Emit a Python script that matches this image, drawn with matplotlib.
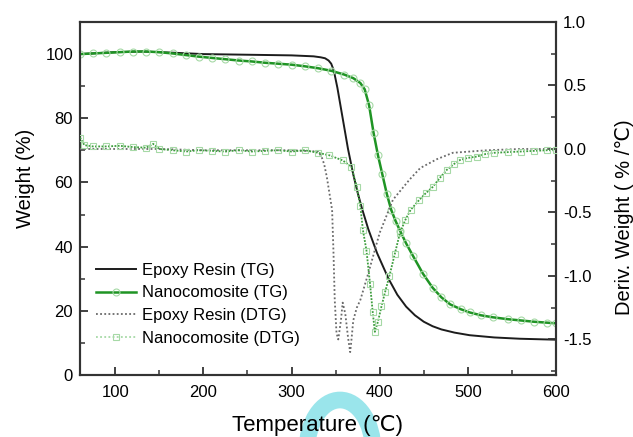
import matplotlib
matplotlib.use("Agg")
import matplotlib.pyplot as plt
from matplotlib.ticker import MultipleLocator
from matplotlib.lines import Line2D
from matplotlib.patches import Arc

plt.rcParams['font.family'] = ['Liberation Sans', 'DejaVu Sans']

# ---------------- data ----------------
# Epoxy resin TG (weight %)
ep_tg_T = [60, 80, 100, 130, 160, 200, 250, 300, 325, 333, 338, 342, 345, 348,
           352, 358, 364, 370, 375, 380, 387, 397, 410, 420, 430, 440, 450, 460,
           470, 485, 502, 530, 559, 600]
ep_tg_W = [100.0, 100.3, 100.6, 100.8, 100.5, 100.0, 99.8, 99.6, 99.3, 99.0, 98.7,
           98.0, 97.0, 94.8, 89.5, 80.0, 70.5, 62.5, 56.8, 51.8, 45.5, 38.0, 30.0,
           25.0, 21.3, 18.6, 16.6, 15.2, 14.2, 13.2, 12.4, 11.7, 11.3, 11.0]

# Nanocomposite TG (weight %)
nc_tg_T = [60, 75, 90, 105, 120, 135, 150, 165, 180, 195, 210, 225, 240, 255, 270,
           285, 300, 315, 330, 345, 360, 370, 378, 383, 388, 393, 398, 403, 408, 413,
           418, 423, 430, 438, 449, 460, 470, 480, 492, 502, 515, 528, 545, 560, 575,
           590, 600]
nc_tg_W = [100.0, 100.2, 100.4, 100.6, 100.8, 100.8, 100.6, 100.2, 99.7, 99.2, 98.8,
           98.4, 98.0, 97.7, 97.3, 97.0, 96.7, 96.2, 95.6, 94.8, 93.6, 92.5, 91.0,
           89.0, 84.0, 75.5, 68.5, 62.5, 56.5, 51.5, 48.0, 45.0, 41.0, 37.0, 31.6,
           27.2, 24.2, 22.0, 20.5, 19.5, 18.6, 18.0, 17.4, 17.0, 16.6, 16.3, 16.1]

# Epoxy resin DTG (%/°C)
ep_dtg_T = [60, 100, 150, 200, 250, 300, 330, 334, 337, 340, 343, 346, 347.5, 349,
            351, 353, 356, 358, 361, 364, 366.5, 368, 370, 374, 378, 387, 400, 415,
            434, 446, 465, 483, 522, 560, 600]
ep_dtg_D = [0.0, 0.0, 0.0, -0.01, -0.01, -0.01, -0.02, -0.06, -0.12, -0.22, -0.35,
            -0.48, -0.80, -1.19, -1.45, -1.50, -1.35, -1.21, -1.30, -1.48, -1.60,
            -1.50, -1.35, -1.25, -1.19, -0.98, -0.66, -0.40, -0.24, -0.15, -0.08,
            -0.03, -0.01, 0.0, 0.0]

# Nanocomposite DTG (%/°C)
nc_dtg_T = [60, 65, 75, 90, 105, 120, 135, 143, 150, 165, 180, 195, 210, 225, 240,
            255, 270, 285, 300, 315, 330, 343, 358, 368, 374, 378, 381, 385, 389, 392,
            394.5, 398, 402, 406, 411, 417, 423, 429, 435, 445, 452, 460, 468, 476,
            484, 491, 500, 510, 520, 530, 545, 560, 575, 590, 600]
nc_dtg_D = [0.09, 0.03, 0.02, 0.02, 0.025, 0.015, 0.01, 0.04, 0.0, -0.01, -0.02,
            -0.01, -0.015, -0.02, -0.01, -0.02, -0.015, -0.01, -0.02, -0.01, -0.03,
            -0.05, -0.09, -0.14, -0.30, -0.45, -0.64, -0.80, -1.06, -1.28, -1.44,
            -1.36, -1.24, -1.13, -1.00, -0.83, -0.66, -0.56, -0.48, -0.40, -0.35,
            -0.30, -0.23, -0.165, -0.12, -0.087, -0.07, -0.06, -0.04, -0.03, -0.025,
            -0.02, -0.015, -0.01, -0.01]

labels = ['Epoxy Resin (TG)', 'Nanocomosite (TG)',
          'Epoxy Resin (DTG)', 'Nanocomosite (DTG)']

x_ticks = [100, 200, 300, 400, 500, 600]
y_ticks = [0, 20, 40, 60, 80, 100]
y2_ticks = [-1.5, -1.0, -0.5, 0.0, 0.5, 1.0]

# ---------------- figure ----------------
W, H = 633, 437
fig = plt.figure(figsize=(W / 100, H / 100), dpi=100)
L, R, B, T = 80, 556, 375, 22
ax = fig.add_axes([L / W, 1 - B / H, (R - L) / W, (B - T) / H])
ax2 = ax.twinx()

black = '#1c1c1c'
green = '#1f9424'
green2 = '#3d9d3d'
lightg = '#a6d9a6'
grey = '#6a6a6a'

ax.plot(ep_tg_T, ep_tg_W, color=black, lw=1.4, zorder=3)
ax.plot(nc_tg_T, nc_tg_W, color=green, lw=1.8, marker='o', ms=5, mfc='none',
        mec=lightg, mew=0.8, zorder=4)

ax2.plot(ep_dtg_T, ep_dtg_D, color=grey, lw=1.3, ls=(0, (1, 1.3)), zorder=3)
ax2.plot(nc_dtg_T, nc_dtg_D, color=green2, lw=1.3, ls=(0, (1, 0.8)), marker='s',
         ms=5, mfc='none', mec=lightg, mew=0.8, zorder=4)

ax.set_xlim(60, 600)
ax.set_ylim(0, 110)
ax2.set_ylim(-1.78, 1.0)

ax.set_xticks(x_ticks)
ax.set_yticks(y_ticks)
ax2.set_yticks(y2_ticks)
ax2.set_yticklabels(['%.1f' % v for v in y2_ticks])
ax.xaxis.set_minor_locator(MultipleLocator(50))
ax.yaxis.set_minor_locator(MultipleLocator(10))
ax2.yaxis.set_minor_locator(MultipleLocator(0.25))

spine_c = '#333333'
for a in (ax, ax2):
    for s in a.spines.values():
        s.set_linewidth(1.5)
        s.set_color(spine_c)
ax.tick_params(axis='both', which='major', direction='in', length=6, width=1.3,
               labelsize=12, color=spine_c, top=False, right=False)
ax.tick_params(axis='both', which='minor', direction='in', length=3.5, width=1.1,
               color=spine_c, top=False, right=False)
ax.tick_params(axis='x', which='major', pad=7)
ax.tick_params(axis='y', which='major', pad=5)
ax2.tick_params(axis='y', which='major', direction='in', length=6, width=1.3,
                labelsize=12, color=spine_c, pad=5)
ax2.tick_params(axis='y', which='minor', direction='in', length=3.5, width=1.1,
                color=spine_c)

ax.set_xlabel('Temperature (℃)', fontsize=16)
ax.xaxis.set_label_coords((318 - L) / (R - L), (B - 415) / (B - T))
ax.set_ylabel('Weight (%)', fontsize=14.5)
ax.yaxis.set_label_coords((35 - L) / (R - L), (B - 178) / (B - T))
ax2.set_ylabel('Deriv. Weight ( % /℃)', fontsize=14.5)
ax2.yaxis.set_label_coords((615 - L) / (R - L), (B - 217) / (B - T))

handles = [
    Line2D([], [], color=black, lw=1.4),
    Line2D([], [], color=green, lw=1.8, marker='o', ms=5, mfc='none', mec=lightg, mew=0.8),
    Line2D([], [], color=grey, lw=1.3, ls=(0, (1, 1.3))),
    Line2D([], [], color=lightg, lw=1.3, ls=(0, (1, 1.3)), marker='s', ms=5,
           mfc='none', mec=lightg, mew=0.8),
]
ax2.legend(handles, labels, loc='upper left', frameon=False, fontsize=12,
           borderpad=0, borderaxespad=0,
           bbox_to_anchor=((96 - L) / (R - L), (B - 263) / (B - T)),
           handlelength=2.4, handletextpad=0.35, labelspacing=0.45, numpoints=1)

# faint cyan watermark stroke seen behind the x-axis title
arc = Arc((340 / W, 1 - 450 / H), 66 / W, 100 / H, theta1=0, theta2=180,
          lw=12, color='#9ae5eb', transform=fig.transFigure, zorder=-1)
fig.add_artist(arc)

fig.savefig('out.png', dpi=100)
